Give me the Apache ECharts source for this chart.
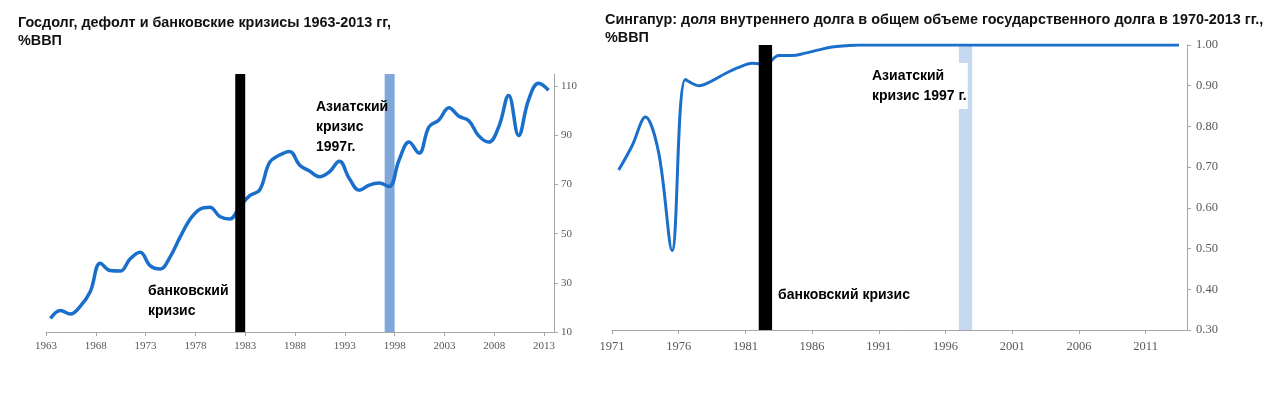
<!DOCTYPE html>
<html lang="ru">
<head>
    <meta charset="utf-8" />
    <title>Госдолг и Сингапур</title>
    <script src="https://cdn.jsdelivr.net/npm/echarts@6/dist/echarts.min.js"></script>
</head>
<body style="margin:0;background:#fff;">
    <div id="main" style="width:1274px;height:396px;"></div>
    <script type="text/javascript">

        // left chart: public debt, % of GDP (mid-year values)
        var debtYears = [1963, 1964, 1965, 1966, 1967, 1968, 1969, 1970, 1971, 1972,
            1973, 1974, 1975, 1976, 1977, 1978, 1979, 1980, 1981, 1982,
            1983, 1984, 1985, 1986, 1987, 1988, 1989, 1990, 1991, 1992,
            1993, 1994, 1995, 1996, 1997, 1998, 1999, 2000, 2001, 2002,
            2003, 2004, 2005, 2006, 2007, 2008, 2009, 2010, 2011, 2012, 2013];
        var debtValues = [15.5, 18.8, 17.3, 20.5, 26.5, 38, 35, 34.8, 39.8, 42.5,
            37, 35.6, 40.5, 48.5, 55.8, 60, 60.8, 57, 56, 61,
            65.5, 67.8, 79, 82, 83.5, 78, 75.5, 73.2, 75.2, 79.5,
            72.5, 67.7, 69.8, 70.6, 69.2, 80, 87.3, 82.8, 93.5, 96.3,
            101.3, 97.8, 96, 89.8, 87.3, 93.5, 106.3, 90, 104.5, 111.2, 108.4];
        var debtXTicks = [1963, 1968, 1973, 1978, 1983, 1988, 1993, 1998, 2003, 2008, 2013];
        var debtYTicks = [10, 30, 50, 70, 90, 110];

        // right chart: Singapore, domestic share of public debt
        var sgYears = [1971, 1972, 1973, 1974, 1975, 1976, 1977, 1978, 1979, 1980,
            1981, 1982, 1983, 1984, 1985, 1986, 1987, 1988, 1989, 1990,
            1991, 1992, 1993, 1994, 1995, 1996, 1997, 1998, 1999, 2000,
            2001, 2002, 2003, 2004, 2005, 2006, 2007, 2008, 2009, 2010,
            2011, 2012, 2013];
        var sgValues = [0.693, 0.752, 0.823, 0.735, 0.495, 0.915, 0.900, 0.912, 0.930, 0.945,
            0.955, 0.953, 0.974, 0.974, 0.980, 0.988, 0.995, 0.998, 1.0, 1.0,
            1.0, 1.0, 1.0, 1.0, 1.0, 1.0, 1.0, 1.0, 1.0, 1.0,
            1.0, 1.0, 1.0, 1.0, 1.0, 1.0, 1.0, 1.0, 1.0, 1.0,
            1.0, 1.0, 1.0];
        var sgXTicks = [1971, 1976, 1981, 1986, 1991, 1996, 2001, 2006, 2011];

        // crisis periods [from, to]
        var bankCrisis = [1982, 1983];
        var asianCrisis = [1997, 1998];

        var lineColor = '#1a6fcb';
        var axisColor = '#a6a6a6';
        var labelColor = '#595959';
        var serif = 'Liberation Serif';
        var sans = 'Liberation Sans';

        function pairs(xs, ys) {
            return xs.map(function (x, i) { return [x, ys[i]]; });
        }

        function tickAxis(min, max, ticks, size, margin, gridIndex) {
            return {
                type: 'value', gridIndex: gridIndex, min: min, max: max,
                axisLine: { lineStyle: { color: axisColor } },
                axisTick: { customValues: ticks, length: 4, lineStyle: { color: axisColor } },
                axisLabel: {
                    customValues: ticks, fontFamily: serif, fontSize: size, color: labelColor, margin: margin,
                    formatter: function (v) { return String(v); }
                },
                splitLine: { show: false }
            };
        }

        function crisis(range, color, xIdx, yIdx, z) {
            return {
                type: 'line', xAxisIndex: xIdx, yAxisIndex: yIdx, data: [], z: z, silent: true,
                markArea: {
                    silent: true, z: z,
                    itemStyle: { color: color, opacity: 1 },
                    data: [[{ xAxis: range[0] }, { xAxis: range[1] }]]
                }
            };
        }

        var myChart = echarts.init(document.getElementById('main'));

        var boldText = { fontFamily: sans, fontSize: 14, fontWeight: 'bold', fill: '#000', lineHeight: 20 };
        var titleStyle = { fontFamily: sans, fontSize: 14.4, fontWeight: 'bold', color: '#111', lineHeight: 18 };

        option = {
            backgroundColor: '#fff',
            animation: false,
            title: [
                {
                    text: 'Госдолг, дефолт и банковские кризисы 1963-2013 гг,\n%ВВП',
                    left: 18, top: 14, padding: 0,
                    textStyle: titleStyle
                },
                {
                    text: 'Сингапур: доля внутреннего долга в общем объеме государственного долга в 1970-2013 гг.,\n%ВВП',
                    left: 605, top: 11, padding: 0,
                    textStyle: titleStyle
                }
            ],
            grid: [
                { left: 46, right: 720, top: 74, bottom: 64 },
                { left: 612, right: 87, top: 45, bottom: 66 }
            ],
            xAxis: [
                tickAxis(1963, 2014, debtXTicks, 11, 9, 0),
                { type: 'value', gridIndex: 0, min: 1962.55, max: 2013.55, show: false },
                tickAxis(1971, 2014.1, sgXTicks, 12.5, 10, 1),
                { type: 'value', gridIndex: 1, min: 1970.5, max: 2013.6, show: false }
            ],
            yAxis: [
                {
                    type: 'value', gridIndex: 0, position: 'right', min: 10, max: 115,
                    axisLine: { show: true, lineStyle: { color: axisColor } },
                    axisTick: { show: true, customValues: debtYTicks, length: 4, lineStyle: { color: axisColor } },
                    axisLabel: { customValues: debtYTicks, fontFamily: serif, fontSize: 11, color: labelColor, margin: 7 },
                    splitLine: { show: false }
                },
                {
                    type: 'value', gridIndex: 1, position: 'right', min: 0.3, max: 1.0, interval: 0.1,
                    axisLine: { show: true, lineStyle: { color: axisColor } },
                    axisTick: { show: true, length: 4, lineStyle: { color: axisColor } },
                    axisLabel: {
                        fontFamily: serif, fontSize: 12.5, color: labelColor, margin: 9,
                        formatter: function (v) { return v.toFixed(2); }
                    },
                    splitLine: { show: false }
                }
            ],
            series: [
                crisis(asianCrisis, '#7fa7d9', 0, 0, 1),
                {
                    type: 'line', xAxisIndex: 1, yAxisIndex: 0, z: 2,
                    data: pairs(debtYears, debtValues),
                    smooth: 0.4, showSymbol: false,
                    lineStyle: { color: lineColor, width: 3.5 }
                },
                crisis(bankCrisis, '#000', 0, 0, 3),
                crisis(asianCrisis, '#c6d9f0', 2, 1, 1),
                {
                    type: 'line', xAxisIndex: 3, yAxisIndex: 1, z: 2,
                    data: pairs(sgYears, sgValues),
                    smooth: 0.35, showSymbol: false,
                    lineStyle: { color: lineColor, width: 3 }
                },
                crisis(bankCrisis, '#000', 2, 1, 3)
            ],
            graphic: [
                { type: 'text', left: 148, top: 281, z: 100, style: Object.assign({ text: 'банковский\nкризис' }, boldText) },
                { type: 'text', left: 316, top: 97, z: 100, style: Object.assign({ text: 'Азиатский\nкризис\n1997г.' }, boldText) },
                { type: 'text', left: 778, top: 285, z: 100, style: Object.assign({ text: 'банковский кризис' }, boldText) },
                {
                    type: 'text', left: 865, top: 63, z: 100,
                    style: Object.assign({ text: 'Азиатский\nкризис 1997 г.', backgroundColor: '#fff', padding: [3, 1, 3, 7] }, boldText)
                }
            ]
        };

        myChart.setOption(option);

    </script>
</body>
</html>
